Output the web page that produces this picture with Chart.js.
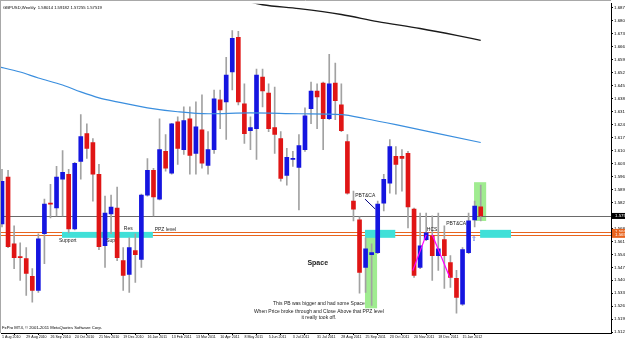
<!DOCTYPE html>
<html>
<head>
<meta charset="utf-8">
<script src="https://cdn.jsdelivr.net/npm/chart.js@4.4.0/dist/chart.umd.min.js"></script>
<style>
  html, body { margin: 0; padding: 0; background: #fff; }
  #wrap { width: 625px; height: 340px; }
</style>
</head>
<body>
<div id="wrap"><canvas id="chart" width="625" height="340"></canvas></div>
<script>
// GBPUSD weekly, week 0 = 1 Aug 2010
const opens = [1.5709,1.5961,1.5602,1.5533,1.5522,1.5426,1.5351,1.5656,1.5821,1.5795,
  1.5950,1.5977,1.5682,1.6046,1.6196,1.6148,1.5977,1.5591,1.5763,1.5795,
  1.5511,1.5436,1.5565,1.5517,1.5864,1.5998,1.5843,1.6100,1.5982,1.6260,
  1.6110,1.6276,1.6089,1.6217,1.6025,1.6110,1.6378,1.6367,1.6528,1.6715,
  1.6356,1.6212,1.6223,1.6501,1.6415,1.6228,1.6169,1.5971,1.6057,1.6014,
  1.6110,1.6330,1.6426,1.6469,1.6276,1.6469,1.6351,1.6153,1.5832,1.5731,
  1.5474,1.5543,1.5554,1.5821,1.5929,1.6073,1.6073,1.6089,1.5789,1.5474,
  1.5624,1.5645,1.5538,1.5624,1.5500,1.5415,1.5276,1.5554,1.5731,1.58014];
const highs = [1.6003,1.5998,1.5698,1.5607,1.5581,1.5468,1.5656,1.5843,1.5923,1.6019,
  1.6105,1.6003,1.6041,1.6298,1.6249,1.6169,1.6030,1.5859,1.5864,1.5907,
  1.5581,1.5634,1.5656,1.5870,1.6062,1.6009,1.6276,1.6191,1.6252,1.6287,
  1.6340,1.6340,1.6367,1.6405,1.6207,1.6431,1.6431,1.6608,1.6752,1.6747,
  1.6464,1.6287,1.6544,1.6544,1.6464,1.6447,1.6207,1.6116,1.6100,1.6191,
  1.6335,1.6474,1.6464,1.6474,1.6624,1.6576,1.6464,1.6191,1.5886,1.5747,
  1.5634,1.5602,1.5832,1.5977,1.6164,1.6126,1.6110,1.6100,1.5795,1.5768,
  1.5768,1.5752,1.5768,1.5698,1.5538,1.5458,1.5581,1.5768,1.5832,1.59182];
const lows = [1.5693,1.5581,1.5468,1.5404,1.5324,1.5287,1.5340,1.5495,1.5741,1.5752,
  1.5752,1.5661,1.5677,1.5950,1.6062,1.5832,1.5570,1.5474,1.5656,1.5511,
  1.5351,1.5340,1.5393,1.5474,1.5859,1.5752,1.5838,1.5993,1.5977,1.6030,
  1.6084,1.5977,1.5977,1.6009,1.5977,1.6089,1.6223,1.6164,1.6431,1.6351,
  1.6143,1.6110,1.6057,1.6340,1.6207,1.6089,1.5939,1.5918,1.6019,1.5784,
  1.6100,1.6249,1.6223,1.6110,1.6271,1.6271,1.6207,1.5870,1.5725,1.5335,
  1.5340,1.5270,1.5549,1.5779,1.5875,1.5870,1.5886,1.5688,1.5420,1.5468,
  1.5618,1.5404,1.5458,1.5361,1.5367,1.5228,1.5270,1.5549,1.5693,1.57255];
const closes = [1.5939,1.5586,1.5527,1.5527,1.5442,1.5351,1.5629,1.5816,1.5816,1.5961,
  1.5987,1.5682,1.6036,1.6180,1.6116,1.5977,1.5586,1.5768,1.5800,1.5527,
  1.5431,1.5581,1.5543,1.5864,1.5998,1.5854,1.6110,1.6009,1.6249,1.6116,
  1.6266,1.6078,1.6233,1.6036,1.6110,1.6383,1.6324,1.6512,1.6710,1.6367,
  1.6196,1.6228,1.6512,1.6426,1.6223,1.6191,1.5955,1.6068,1.6059,1.6132,
  1.6292,1.6426,1.6394,1.6276,1.6464,1.6373,1.6212,1.5875,1.5789,1.5447,
  1.5575,1.5554,1.5816,1.5950,1.6126,1.6030,1.6062,1.5800,1.5431,1.5591,
  1.5661,1.5538,1.5575,1.5538,1.5420,1.5313,1.5570,1.5725,1.5805,1.57519];

const dateTickWeeks = [0,4,8,12,16,20,24,28,32,36,40,44,48,52,56,60,64,68,72,76];
const dateLabels = ['1 Aug 2010','29 Aug 2010','26 Sep 2010','24 Oct 2010','21 Nov 2010',
  '19 Dec 2010','16 Jan 2011','13 Feb 2011','13 Mar 2011','10 Apr 2011','8 May 2011',
  '5 Jun 2011','3 Jul 2011','31 Jul 2011','28 Aug 2011','25 Sep 2011','23 Oct 2011',
  '20 Nov 2011','18 Dec 2011','15 Jan 2012'];
const priceTicks = [1.6875,1.6805,1.6735,1.6665,1.6595,1.6525,1.6455,1.6385,1.6315,1.6245,
  1.6175,1.6105,1.6035,1.5965,1.5895,1.5825,1.5755,1.5685,1.5615,1.5545,
  1.5475,1.5405,1.5335,1.5265,1.5195,1.5125];

// moving averages
const maBlueWeeks = [-1,3,6,10,13,16,19,24,29,34,41,49,56,60,65,72,79];
const maBlueValues = [1.6560,1.6528,1.6496,1.6458,1.6421,1.6389,1.6367,1.6335,1.6314,1.6303,
  1.6308,1.6303,1.6298,1.6276,1.6244,1.6196,1.6148];
const maBlackWeeks = [41,43,49,56,62,69,75,79];
const maBlackValues = [1.6905,1.6891,1.6870,1.6838,1.6800,1.6763,1.6726,1.6699];

const header = 'GBPUSD,Weekly  1.58014 1.59182 1.57255 1.57519';
const lastPrice = 1.57519;
const ppzLevels = [1.5666, 1.5650];

const greenZones = [[59.9, 61.9, 1.5672, 1.5254], [77.9, 79.9, 1.5934, 1.5725]];
const cyanZones = [[9.9, 24.9, 1.5666, 1.5634], [59.9, 64.9, 1.5677, 1.5634], [78.9, 84.0, 1.5677, 1.5634]];
const notes = [
  ['Support', 9.4, 1.5618], ['Sup', 17.2, 1.5618], ['Res', 20.1, 1.5682],
  ['PPZ level', 25.2, 1.5677], ['PBT&CA', 58.3, 1.5864], ['HCS', 70.1, 1.5677],
  ['PBT&CA', 73.3, 1.5709]
];
const story = ['This PB was bigger and had some Space',
  'When Price broke through and Close Above that PPZ level',
  'it really took off.'];
const storyY = [1.5281, 1.5238, 1.5201];

const FONT = "'Liberation Sans', Arial, sans-serif";
const BULL = '#1515e0', BEAR = '#e01515';

const drawings = {
  id: 'drawings',
  beforeDatasetsDraw(chart) {
    const { ctx, chartArea: a, scales: { x, y } } = chart;
    ctx.save();
    ctx.beginPath();
    ctx.rect(a.left, a.top, a.right - a.left, a.bottom - a.top);
    ctx.clip();
    ctx.strokeStyle = '#e8641e';
    ctx.lineWidth = 1;
    ppzLevels.forEach(p => {
      const py = Math.round(y.getPixelForValue(p)) + 0.5;
      ctx.beginPath(); ctx.moveTo(a.left, py); ctx.lineTo(a.right, py); ctx.stroke();
    });
    ctx.fillStyle = '#a0ec90';
    greenZones.forEach(z => {
      const x1 = x.getPixelForValue(z[0]), x2 = x.getPixelForValue(z[1]);
      const y1 = y.getPixelForValue(z[2]), y2 = y.getPixelForValue(z[3]);
      ctx.fillRect(x1, y1, x2 - x1, y2 - y1);
    });
    ctx.fillStyle = '#40e0d8';
    cyanZones.forEach(z => {
      const x1 = x.getPixelForValue(z[0]), x2 = x.getPixelForValue(z[1]);
      const y1 = y.getPixelForValue(z[2]), y2 = y.getPixelForValue(z[3]);
      ctx.fillRect(x1, y1, x2 - x1, y2 - y1);
    });
    const ly = Math.round(y.getPixelForValue(lastPrice)) + 0.5;
    ctx.strokeStyle = '#6a6a6a';
    ctx.beginPath(); ctx.moveTo(a.left, ly); ctx.lineTo(a.right, ly); ctx.stroke();
    ctx.restore();
  },
  afterDatasetsDraw(chart) {
    const { ctx, chartArea: a, scales: { x, y } } = chart;
    ctx.save();
    // magenta shoulder lines and pointer
    ctx.strokeStyle = '#ff00ff';
    ctx.lineWidth = 1.2;
    ctx.beginPath();
    ctx.moveTo(x.getPixelForValue(67.8), y.getPixelForValue(1.5458));
    ctx.lineTo(x.getPixelForValue(70.0), y.getPixelForValue(1.5650));
    ctx.moveTo(x.getPixelForValue(71.0), y.getPixelForValue(1.5650));
    ctx.lineTo(x.getPixelForValue(73.9), y.getPixelForValue(1.5420));
    ctx.stroke();
    ctx.strokeStyle = '#000080';
    ctx.lineWidth = 1;
    ctx.beginPath();
    ctx.moveTo(x.getPixelForValue(59.9), y.getPixelForValue(1.5843));
    ctx.lineTo(x.getPixelForValue(61.6), y.getPixelForValue(1.5789));
    ctx.stroke();

    ctx.fillStyle = '#222';
    ctx.textBaseline = 'middle';
    ctx.textAlign = 'left';
    ctx.font = '5px ' + FONT;
    notes.forEach(n => ctx.fillText(n[0], x.getPixelForValue(n[1]), y.getPixelForValue(n[2])));
    ctx.textAlign = 'center';
    story.forEach((s, i) => ctx.fillText(s, x.getPixelForValue(52.3), y.getPixelForValue(storyY[i])));
    ctx.font = 'bold 7px ' + FONT;
    ctx.fillText('Space', x.getPixelForValue(52.1), y.getPixelForValue(1.5500));
    ctx.fillStyle = '#3050e0';
    ctx.font = '7px DejaVu Sans';
    ctx.fillText('\u21E7', x.getPixelForValue(77.9), y.getPixelForValue(1.5629));

    // header and copyright
    ctx.fillStyle = '#000';
    ctx.textAlign = 'left';
    ctx.font = '4.2px ' + FONT;
    ctx.fillText(header, a.left + 2, a.top + 4);
    ctx.fillText('FxPro MT4, \u00A9 2001-2011 MetaQuotes Software Corp.', a.left + 1, a.bottom - 5);
    ctx.restore();
  },
  afterDraw(chart) {
    const { ctx, chartArea: a, scales: { y } } = chart;
    ctx.save();
    ctx.strokeStyle = '#a8a8a8';
    ctx.beginPath(); ctx.moveTo(0.5, 0); ctx.lineTo(0.5, a.bottom); ctx.moveTo(0, 0.5); ctx.lineTo(a.right, 0.5); ctx.stroke();
    ctx.font = '4.4px ' + FONT;
    ctx.textBaseline = 'middle';
    ctx.textAlign = 'left';
    const tag = (p, bg, fg) => {
      const py = y.getPixelForValue(p);
      ctx.fillStyle = bg;
      ctx.fillRect(a.right + 1, py - 3, 625 - a.right, 6);
      ctx.fillStyle = fg;
      ctx.fillText(p.toFixed(5), a.right + 4, py);
    };
    ppzLevels.forEach(p => tag(p, '#e8641e', '#fff'));
    tag(lastPrice, '#000', '#fff');
    ctx.restore();
  }
};

const candleColors = opens.map((o, i) => closes[i] >= o ? BULL : BEAR);

new Chart(document.getElementById('chart'), {
  type: 'bar',
  data: {
    datasets: [
      {
        type: 'line',
        data: maBlackWeeks.map((w, i) => ({ x: w, y: maBlackValues[i] })),
        borderColor: '#1a1a1a', borderWidth: 1.4, pointRadius: 0,
        cubicInterpolationMode: 'monotone', order: 1
      },
      {
        type: 'line',
        data: maBlueWeeks.map((w, i) => ({ x: w, y: maBlueValues[i] })),
        borderColor: '#3a8ede', borderWidth: 1.2, pointRadius: 0,
        cubicInterpolationMode: 'monotone', order: 1
      },
      {
        data: opens.map((o, i) => ({ x: i, y: [o, closes[i]] })),
        backgroundColor: candleColors,
        barThickness: 4, minBarLength: 1, grouped: false, order: 2
      },
      {
        data: highs.map((h, i) => ({ x: i, y: [lows[i], h] })),
        backgroundColor: '#a2a2a2',
        barThickness: 1, grouped: false, order: 3
      }
    ]
  },
  options: {
    responsive: false,
    animation: false,
    devicePixelRatio: 1,
    layout: { padding: { left: 1, top: 1, right: 0, bottom: 0 } },
    plugins: { legend: { display: false }, tooltip: { enabled: false } },
    scales: {
      x: {
        type: 'linear', min: -0.165, max: 100.5, offset: false,
        afterFit: s => { s.height = 7; },
        afterBuildTicks: s => { s.ticks = dateTickWeeks.map(v => ({ value: v })); },
        grid: { drawOnChartArea: false, drawTicks: true, tickLength: 2, color: '#000' },
        border: { display: true, color: '#000' },
        ticks: {
          autoSkip: false, maxRotation: 0, align: 'start', padding: 0,
          color: '#000', font: { size: 3.6, family: FONT },
          callback: (v, i) => dateLabels[i]
        }
      },
      y: {
        type: 'linear', position: 'right', min: 1.51207, max: 1.68969,
        afterFit: s => { s.width = 14; },
        afterBuildTicks: s => { s.ticks = priceTicks.map(v => ({ value: v })); },
        grid: { drawOnChartArea: false, drawTicks: true, tickLength: 2, color: '#000' },
        border: { display: true, color: '#000' },
        ticks: {
          autoSkip: false, padding: 1, color: '#000', font: { size: 4.4, family: FONT },
          callback: v => v.toFixed(5)
        }
      }
    }
  },
  plugins: [drawings]
});
</script>
</body>
</html>
